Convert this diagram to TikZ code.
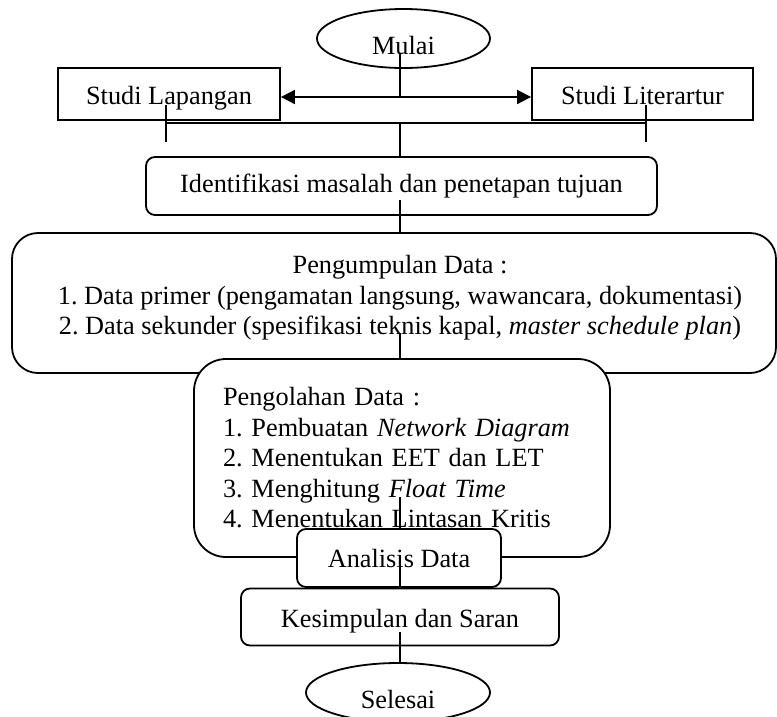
\documentclass[tikz,border=0pt]{standalone}
\usepackage{fontspec}
\setmainfont{Liberation Serif}
\usetikzlibrary{arrows.meta,shapes.geometric}
\begin{document}
\frenchspacing
\begin{tikzpicture}[x=1pt,y=-1pt,
  every node/.style={font=\fontsize{26.3}{30.5}\selectfont, inner sep=0pt},
  conn/.style={line width=1.8pt},
  twoway/.style={line width=1.8pt, >={Triangle[length=14pt,width=14pt]}, <->},
  oval/.style={ellipse, draw, line width=1.8pt, fill=white,
    text height=32pt, text depth=0pt},
  sqbox/.style={rectangle, draw, line width=1.8pt, fill=white,
    text height=26pt, text depth=6pt},
  rbox/.style={rectangle, draw, line width=1.8pt, fill=white, rounded corners=9pt},
  bigbox/.style={rectangle, draw, line width=1.8pt, fill=white, rounded corners=#1},
]
\useasboundingbox (0,0) rectangle (777,716);
\clip (0,0) rectangle (777,716);

% start, the two study boxes and the problem statement
\node[oval, minimum width=173, minimum height=59] (mulai) at (403.5,38.5) {Mulai};
\node[sqbox, minimum width=222, minimum height=52] (lap) at (169,94) {Studi Lapangan};
\node[sqbox, minimum width=221, minimum height=52] (lit) at (642.5,94) {Studi Literartur};
\node[rbox, minimum width=511, minimum height=58] (iden) at (401.5,186)
  {Identifikasi masalah dan penetapan tujuan};

% data collection: frame, then its centred text
\node[bigbox=26pt, minimum width=764, minimum height=140] (kump) at (394,303) {};
\node[align=center] (kumptext) at (400,298)
  {Pengumpulan Data :\\
   1. Data primer (pengamatan langsung, wawancara, dokumentasi)\\
   2. Data sekunder (spesifikasi teknis kapal, \textit{master schedule plan})};

% data processing
\node[bigbox=32pt, minimum width=416, minimum height=198, text width=358pt,
      align=left, inner xsep=29pt] (olah) at (402,458)
  {Pengolahan Data :\\
   1. Pembuatan \textit{Network Diagram}\\
   2. Menentukan EET dan LET\\
   3. Menghitung \textit{Float Time}\\
   4. Menentukan Lintasan Kritis};

% analysis, conclusion and end
\node[rbox, minimum width=204, minimum height=58] (anal) at (399,558) {Analisis Data};
\node[rbox, minimum width=318, minimum height=57, text height=26pt, text depth=6pt]
  (simp) at (400,617) {Kesimpulan dan Saran};
\node[oval, minimum width=184, minimum height=59] (selesai) at (398,692.5) {Selesai};

% junction points of the connectors
\coordinate (m0) at (400,53);
\coordinate (j1) at (400,97);
\coordinate (j2) at (400,123);
\coordinate (tl) at (166,123);
\coordinate (tr) at (646,123);
\coordinate (tla) at (166,105);
\coordinate (tlb) at (166,142);
\coordinate (tra) at (646,105);
\coordinate (trb) at (646,142);
\coordinate (i0) at (400,200);
\coordinate (k0) at (400,333);
\coordinate (o0) at (400,497);
\coordinate (a0) at (400,557);
\coordinate (s0) at (400,632);

% connectors
\draw[conn] (m0) -- (j1);
\draw[twoway] (lap.east |- j1) -- (lit.west |- j1);
\draw[conn] (tl) -- (tr);
\draw[conn] (tla) -- (tlb);
\draw[conn] (tra) -- (trb);
\draw[conn] (j2) -- (j2 |- iden.north);
\draw[conn] (i0) -- (i0 |- kump.north);
\draw[conn] (k0) -- (k0 |- olah.north);
\draw[conn] (o0) -- (o0 |- anal.north);
\draw[conn] (a0) -- (a0 |- simp.north);
\draw[conn] (s0) -- (s0 |- selesai.north);
\end{tikzpicture}
\end{document}
